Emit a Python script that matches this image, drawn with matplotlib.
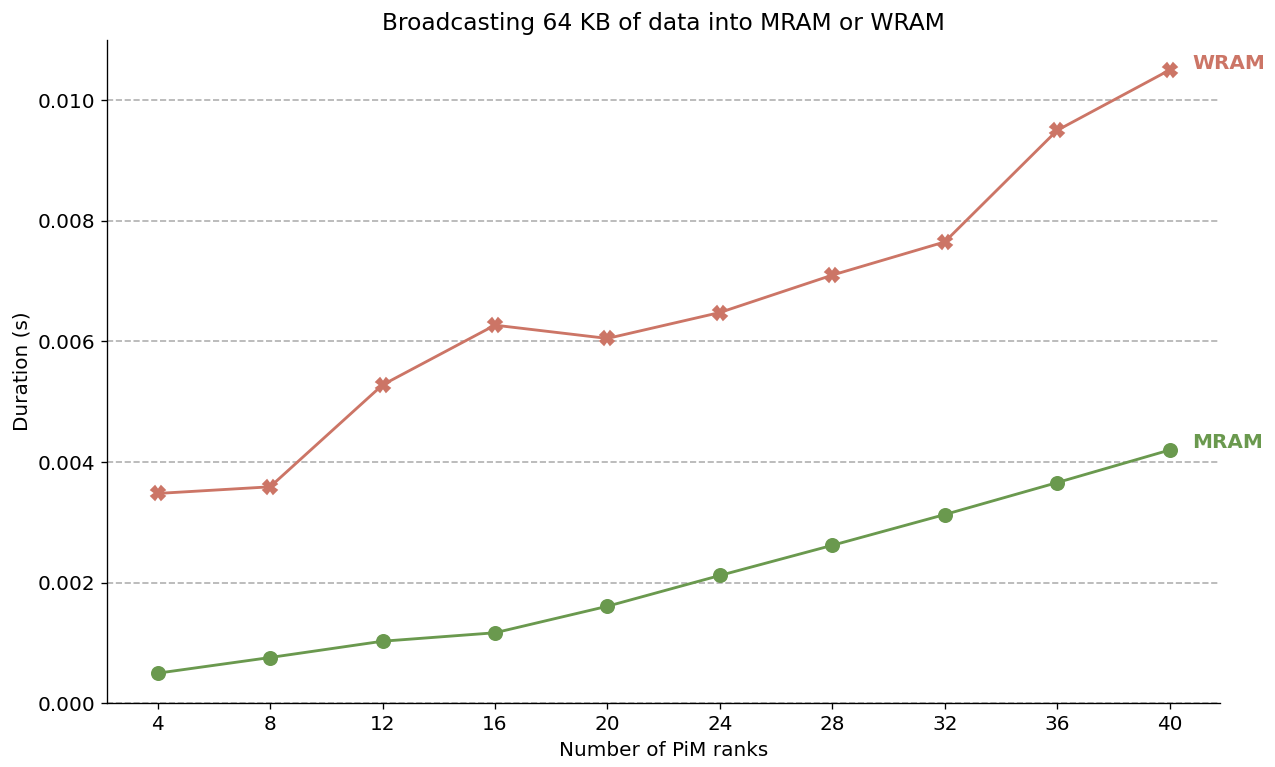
import matplotlib
matplotlib.use('Agg')
import matplotlib.pyplot as plt

ranks = [4, 8, 12, 16, 20, 24, 28, 32, 36, 40]
wram = [0.00348, 0.00359, 0.00528, 0.00627, 0.00605, 0.00648, 0.00710, 0.00765, 0.00950, 0.01050]
mram = [0.00050, 0.00076, 0.00103, 0.00117, 0.00161, 0.00212, 0.00262, 0.00313, 0.00366, 0.00420]

wram_color = '#cc7566'
mram_color = '#6a994e'

plt.rcParams['font.size'] = 12
fig, ax = plt.subplots(figsize=(1275 / 120, 767 / 120), dpi=120)

ax.plot(ranks, wram, color=wram_color, marker='X', markersize=8, linewidth=1.7)
ax.plot(ranks, mram, color=mram_color, marker='o', markersize=8, linewidth=1.7)

ax.text(ranks[-1] + 0.8, wram[-1] + 0.00011, 'WRAM', color=wram_color, fontweight='bold',
        fontsize=12, va='center')
ax.text(ranks[-1] + 0.8, mram[-1] + 0.00013, 'MRAM', color=mram_color, fontweight='bold',
        fontsize=12, va='center')

ax.set_xticks(ranks)
ax.set_ylim(0, 0.011)
ax.set_yticks([0.0, 0.002, 0.004, 0.006, 0.008, 0.010])
ax.yaxis.set_major_formatter(matplotlib.ticker.FormatStrFormatter('%.3f'))
ax.grid(axis='y', linestyle='--', color='#b0b0b0', linewidth=1)
ax.set_axisbelow(True)
ax.spines['top'].set_visible(False)
ax.spines['right'].set_visible(False)

ax.set_xlabel('Number of PiM ranks')
ax.set_ylabel('Duration (s)')
ax.set_title('Broadcasting 64 KB of data into MRAM or WRAM', fontsize=14)

fig.subplots_adjust(left=0.084, right=0.957, top=0.948, bottom=0.083)
fig.savefig('out.png')
